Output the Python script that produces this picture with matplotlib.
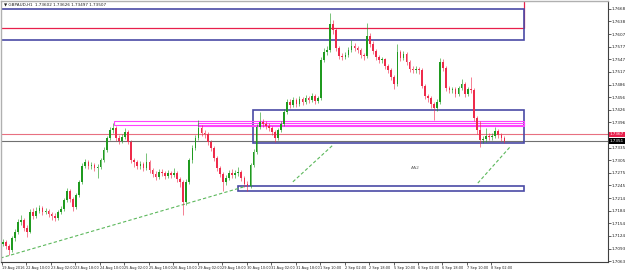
import matplotlib
matplotlib.use("Agg")
import matplotlib.pyplot as plt
from matplotlib.patches import Rectangle

# GBPAUD H1, drawn as 2-hour candles
title = "\u25bc GBPAUD,H1  1.73602 1.73626 1.73497 1.73507"

first_open = 1.7105
closes = [
    1.7109, 1.7099, 1.7089, 1.7118, 1.7133, 1.7157, 1.7161, 1.7142, 1.7133, 1.7181,
    1.7171, 1.7183, 1.7190, 1.7181, 1.7183, 1.7176, 1.7171, 1.7166, 1.7181, 1.7188,
    1.7209, 1.7231, 1.7212, 1.7193, 1.7221, 1.7253, 1.7291, 1.7301, 1.7291, 1.7293,
    1.7286, 1.7289, 1.7305, 1.7329, 1.7358, 1.7377, 1.7382, 1.7358, 1.7351, 1.7361,
    1.7373, 1.7349, 1.7305, 1.7301, 1.7291, 1.7296, 1.7286, 1.7301, 1.7281, 1.7272,
    1.7265, 1.7277, 1.7274, 1.7267, 1.7274, 1.7269, 1.7274, 1.7260, 1.7253, 1.7205,
    1.7253, 1.7305, 1.7334, 1.7358, 1.7382, 1.7370, 1.7368, 1.7349, 1.7334, 1.7310,
    1.7286, 1.7272, 1.7253, 1.7262, 1.7274, 1.7269, 1.7274, 1.7277, 1.7262, 1.7248,
    1.7243, 1.7293, 1.7325, 1.7385, 1.7397, 1.7392, 1.7387, 1.7382, 1.7373, 1.7358,
    1.7377, 1.7392, 1.7421, 1.7445, 1.7437, 1.7449, 1.7440, 1.7452, 1.7445, 1.7454,
    1.7449, 1.7459, 1.7447, 1.7454, 1.7545, 1.7565, 1.7569, 1.7632, 1.7617, 1.7574,
    1.7555, 1.7553, 1.7557, 1.7569, 1.7579, 1.7574, 1.7569, 1.7557, 1.7555, 1.7603,
    1.7584, 1.7567, 1.7553, 1.7545, 1.7548, 1.7531, 1.7521, 1.7505, 1.7488, 1.7565,
    1.7550, 1.7560, 1.7541, 1.7524, 1.7521, 1.7524, 1.7521, 1.7483, 1.7459, 1.7454,
    1.7440, 1.7430, 1.7445, 1.7541, 1.7526, 1.7478, 1.7473, 1.7476, 1.7464, 1.7478,
    1.7488, 1.7464, 1.7476, 1.7473, 1.7406, 1.7377, 1.7353, 1.7356, 1.7363, 1.7361,
    1.7363, 1.7375, 1.7365, 1.7358, 1.7351,
]
highs = [
    1.7116, 1.7114, 1.7104, 1.7124, 1.7140, 1.7164, 1.7173, 1.7166, 1.7150, 1.7188,
    1.7190, 1.7192, 1.7197, 1.7195, 1.7190, 1.7188, 1.7181, 1.7178, 1.7186, 1.7195,
    1.7214, 1.7238, 1.7236, 1.7217, 1.7226, 1.7258, 1.7298, 1.7308, 1.7306, 1.7300,
    1.7298, 1.7296, 1.7310, 1.7336, 1.7363, 1.7385, 1.7394, 1.7387, 1.7365, 1.7368,
    1.7382, 1.7377, 1.7353, 1.7310, 1.7306, 1.7303, 1.7300, 1.7322, 1.7306, 1.7286,
    1.7279, 1.7284, 1.7284, 1.7279, 1.7281, 1.7279, 1.7286, 1.7279, 1.7265, 1.7258,
    1.7260, 1.7310, 1.7341, 1.7365, 1.7401, 1.7389, 1.7377, 1.7373, 1.7353, 1.7339,
    1.7315, 1.7291, 1.7277, 1.7270, 1.7281, 1.7284, 1.7281, 1.7289, 1.7281, 1.7267,
    1.7255, 1.7298, 1.7332, 1.7392, 1.7421, 1.7404, 1.7399, 1.7394, 1.7387, 1.7377,
    1.7382, 1.7399, 1.7428, 1.7452, 1.7452, 1.7457, 1.7454, 1.7459, 1.7457, 1.7462,
    1.7459, 1.7466, 1.7464, 1.7459, 1.7552, 1.7574, 1.7579, 1.7658, 1.7641, 1.7622,
    1.7579, 1.7562, 1.7565, 1.7577, 1.7593, 1.7586, 1.7579, 1.7574, 1.7562, 1.7634,
    1.7610, 1.7591, 1.7572, 1.7557, 1.7553, 1.7550, 1.7536, 1.7526, 1.7509, 1.7584,
    1.7569, 1.7567, 1.7565, 1.7545, 1.7531, 1.7531, 1.7529, 1.7526, 1.7488, 1.7464,
    1.7459, 1.7445, 1.7452, 1.7550, 1.7548, 1.7531, 1.7483, 1.7481, 1.7481, 1.7483,
    1.7500, 1.7493, 1.7481, 1.7505, 1.7478, 1.7411, 1.7399, 1.7363, 1.7382, 1.7370,
    1.7370, 1.7385, 1.7380, 1.7370, 1.7363,
]
lows = [
    1.7098, 1.7092, 1.7077, 1.7084, 1.7112, 1.7128, 1.7150, 1.7135, 1.7121, 1.7130,
    1.7164, 1.7166, 1.7178, 1.7174, 1.7176, 1.7169, 1.7162, 1.7159, 1.7162, 1.7176,
    1.7183, 1.7204, 1.7205, 1.7183, 1.7188, 1.7216, 1.7248, 1.7286, 1.7284, 1.7283,
    1.7279, 1.7262, 1.7284, 1.7300, 1.7324, 1.7353, 1.7370, 1.7351, 1.7344, 1.7346,
    1.7356, 1.7344, 1.7298, 1.7289, 1.7284, 1.7284, 1.7279, 1.7281, 1.7274, 1.7265,
    1.7258, 1.7260, 1.7267, 1.7260, 1.7262, 1.7262, 1.7265, 1.7253, 1.7241, 1.7173,
    1.7197, 1.7248, 1.7298, 1.7329, 1.7353, 1.7363, 1.7358, 1.7341, 1.7327, 1.7303,
    1.7279, 1.7265, 1.7231, 1.7246, 1.7258, 1.7262, 1.7262, 1.7267, 1.7255, 1.7241,
    1.7231, 1.7238, 1.7288, 1.7320, 1.7380, 1.7385, 1.7380, 1.7375, 1.7365, 1.7349,
    1.7353, 1.7372, 1.7387, 1.7416, 1.7430, 1.7432, 1.7433, 1.7435, 1.7437, 1.7440,
    1.7442, 1.7445, 1.7440, 1.7442, 1.7449, 1.7540, 1.7557, 1.7565, 1.7608, 1.7567,
    1.7548, 1.7545, 1.7548, 1.7553, 1.7565, 1.7567, 1.7562, 1.7550, 1.7545, 1.7550,
    1.7577, 1.7560, 1.7545, 1.7538, 1.7538, 1.7524, 1.7514, 1.7497, 1.7476, 1.7483,
    1.7543, 1.7545, 1.7533, 1.7517, 1.7514, 1.7514, 1.7512, 1.7478, 1.7452, 1.7445,
    1.7430, 1.7401, 1.7423, 1.7440, 1.7519, 1.7471, 1.7466, 1.7466, 1.7457, 1.7459,
    1.7473, 1.7457, 1.7459, 1.7466, 1.7399, 1.7368, 1.7337, 1.7346, 1.7349, 1.7353,
    1.7353, 1.7358, 1.7358, 1.7351, 1.7346,
]
hours_per_candle = 2

time_labels = ["19 Aug 2016", "22 Aug 10:00", "23 Aug 02:00", "23 Aug 18:00", "24 Aug 10:00",
               "25 Aug 02:00", "25 Aug 18:00", "26 Aug 10:00", "29 Aug 02:00", "29 Aug 18:00",
               "30 Aug 10:00", "31 Aug 02:00", "31 Aug 18:00", "1 Sep 10:00", "2 Sep 02:00",
               "2 Sep 18:00", "5 Sep 10:00", "6 Sep 02:00", "6 Sep 18:00", "7 Sep 10:00",
               "8 Sep 02:00"]
hours_per_label = 16

price_ticks = [1.7668, 1.7638, 1.7607, 1.7577, 1.7547, 1.7517, 1.7486, 1.7456, 1.7426, 1.7396,
               1.7335, 1.7305, 1.7275, 1.7245, 1.7214, 1.7184, 1.7154, 1.7124, 1.7093, 1.7063]

# drawn objects (hour index, price)
level_line = 1.7367
bid_price = 1.7351
zone_top_blue = (1.7593, 1.7668)
zone_top_red = (1.7622, 1.7700)
zone_mid_blue = (1.7346, 1.7425)
zone_low_blue = (1.7231, 1.7243)
zone_pink_a = (1.7389, 1.7399)
zone_pink_b = (1.7387, 1.7394)
trend_long = ([-1, 158.2], [1.7070, 1.7241])
trend_mid = ([190.2, 216.3], [1.7253, 1.7341])
trend_right = ([311.1, 332.7], [1.7250, 1.7339])

fig = plt.figure(figsize=(6.25, 2.7), dpi=100)
fig.patch.set_facecolor("white")
ax = fig.add_axes([1 / 625, 8 / 270, 607 / 625, 261 / 270])
ax.set_xlim(-0.6, 396.2)
ax.set_ylim(1.70606, 1.7687)

up_col = "#1f9a1f"
dn_col = "#ee2b4b"
opens = [first_open] + closes[:-1]
for i in range(len(closes)):
    x = i * hours_per_candle + 0.5
    o, c = opens[i], closes[i]
    col = up_col if c >= o else dn_col
    ax.vlines(x, lows[i], highs[i], color=col, lw=0.6, alpha=0.7, zorder=3)
    ax.bar(x, max(abs(c - o), 0.00008), bottom=min(o, c), width=1.1,
           color=col, lw=0, zorder=3)

# rectangles
def zone(x0, x1, lohi, col, lw, z=2):
    ax.add_patch(Rectangle((x0, lohi[0]), x1 - x0, lohi[1] - lohi[0], fill=False,
                           edgecolor=col, lw=lw, zorder=z))

zone(-3, 341.2, zone_top_red, "#e8204c", 0.9)
zone(-3, 341.2, zone_top_blue, "#4a4aa6", 1.2)
zone(164.0, 341.2, zone_mid_blue, "#4a4aa6", 1.2)
zone(154.2, 341.2, zone_low_blue, "#4a4aa6", 1.2)
zone(73.2, 341.2, zone_pink_a, "#ff44ff", 0.8)
zone(128.0, 341.2, zone_pink_b, "#ff44ff", 0.8)

ax.axhline(level_line, color="#e87080", lw=0.8, zorder=1)
ax.axhline(bid_price, color="#707070", lw=0.8, zorder=1)

for xs, ys in (trend_long, trend_mid, trend_right):
    ax.plot(xs, ys, color="#5cb85c", lw=0.8, dashes=(3, 2), zorder=2)

ax.text(270.6, 1.7286, "AA2", fontsize=3.2, color="#606060", ha="center", va="center")

# axes styling like the terminal
for s in ("left", "top"):
    ax.spines[s].set_color("#b0b0b0")
    ax.spines[s].set_linewidth(1.0)
for s in ("right", "bottom"):
    ax.spines[s].set_color("#404040")
    ax.spines[s].set_linewidth(0.8)

ax.yaxis.tick_right()
ax.set_yticks(price_ticks)
ax.set_yticklabels(["%.4f" % p for p in price_ticks])
ax.tick_params(axis="y", labelsize=3.0, length=2, width=0.5, pad=0.8, colors="#202020")

ax.set_xticks([k * hours_per_label for k in range(len(time_labels))])
ax.set_xticklabels(time_labels, ha="left")
ax.tick_params(axis="x", labelsize=2.5, length=2, width=0.5, pad=1, colors="#202020")

ax.text(1.003, level_line, "1.7367", transform=ax.get_yaxis_transform(), fontsize=3.0,
        color="white", va="center", ha="left",
        bbox=dict(boxstyle="square,pad=0.15", fc="#e8204c", ec="none"))
ax.text(1.003, bid_price, "1.7351", transform=ax.get_yaxis_transform(), fontsize=3.0,
        color="white", va="center", ha="left",
        bbox=dict(boxstyle="square,pad=0.15", fc="black", ec="none"))

fig.text(4 / 625, 1 - 5 / 270, title, fontsize=3.0, va="center", ha="left", color="#202020")

fig.savefig("out.png", dpi=100, facecolor="white")
